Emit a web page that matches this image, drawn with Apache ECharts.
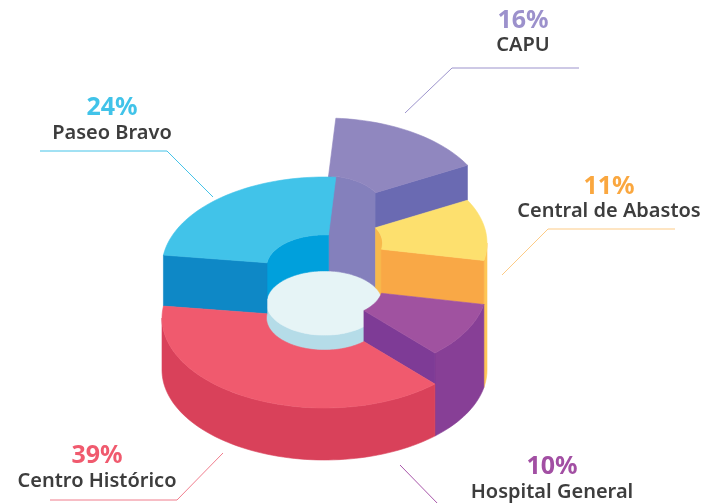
<!DOCTYPE html>
<html>
<head>
<meta charset="utf-8">
<script src="https://cdn.jsdelivr.net/npm/echarts@6/dist/echarts.min.js"></script>
<style>
  html, body { margin: 0; padding: 0; background: #fff; }
  #main { width: 707px; height: 503px; }
</style>
</head>
<body>
<div id="main"></div>
<script>
  // data
  var names = ['CAPU', 'Central de Abastos', 'Hospital General', 'Centro Histórico', 'Paseo Bravo'];
  var values = [16, 11, 10, 39, 24];

  // styles
  var topColors = ['#9087BF', '#FDE06E', '#A052A0', '#F05A6E', '#41C3E9'];
  var sideColors = ['#6A6AB2', '#FEC658', '#873F96', '#D9415A', '#0E88C6'];
  var innerColors = ['#8480BC', '#F7B94C', '#8A4598', '#D9415A', '#00A0DC'];
  var cutColors = ['#6A6AB2', '#F9A846', '#7E3B96', '#C8384F', '#0E88C6'];
  var pctColors = ['#9C91CC', '#FAA73F', '#A24FA3', '#F05A6E', '#41C3E9'];
  var lineColors = ['#9C93CC', '#FDCB86', '#A855A9', '#F07C8C', '#45C3E8'];
  var heights = [162, 127, 83, 52, 103];   // extrusion of each slice (px)

  // label layout: [x, pct y, name y] and leader line points
  var labelPos = [[523, 21, 45], [609, 187, 211], [552, 467, 492], [97, 456, 481], [112, 108, 133]];
  var labelLines = [
    [[405, 113], [452, 68], [579, 68]],
    [[502, 275], [548, 229], [675, 229]],
    [[400, 465], [440, 506], [600, 506]],
    [[223, 453], [177, 500], [50, 500]],
    [[213, 197], [167, 151], [40, 151]]
  ];

  var CX = 324.5, CY = 370, RO = 162.5, RI = 58, KY = 90 / 162.5, HUB_H = 67;
  var START = 86;

  var total = values.reduce(function (a, b) { return a + b; }, 0);
  var a0 = [], a1 = [], acc = 0;
  for (var i = 0; i < values.length; i++) {
    a0.push(START - 360 * acc / total);
    acc += values[i];
    a1.push(START - 360 * acc / total);
  }
  // back to front order
  var order = values.map(function (v, i) { return i; }).sort(function (p, q) {
    return Math.sin((a0[q] + a1[q]) / 360 * Math.PI) - Math.sin((a0[p] + a1[p]) / 360 * Math.PI);
  });
  var rank = [];
  order.forEach(function (idx, r) { rank[idx] = r; });

  function pt(r, deg, h) {
    var a = deg * Math.PI / 180;
    return [CX + r * Math.cos(a), CY - h - r * Math.sin(a) * KY];
  }
  function arc(r, from, to, h) {
    var n = Math.max(2, Math.ceil(Math.abs(to - from) / 2));
    var pts = [];
    for (var k = 0; k <= n; k++) pts.push(pt(r, from + (to - from) * k / n, h));
    return pts;
  }
  // parts of [lo, hi] that fall in [offset + k*360, offset + k*360 + 180]
  function clip(lo, hi, offset) {
    var out = [];
    for (var k = -3; k <= 3; k++) {
      var s = offset + k * 360, e = s + 180;
      var a = Math.max(lo, s), b = Math.min(hi, e);
      if (b - a > 0.01) out.push([a, b]);
    }
    return out;
  }
  function poly(points, color, z2) {
    return {
      type: 'polygon', z2: z2,
      shape: { points: points },
      style: { fill: color, stroke: color, lineWidth: 0.6 }
    };
  }

  function renderItem(params, api) {
    var i = params.dataIndex;
    var n = values.length;
    var h = heights[i];
    var lo = a1[i], hi = a0[i];
    var base = 10 + rank[i] * 10;
    var children = [];

    if (i === 0) {
      // center hub
      children.push(poly(arc(RI, -180, 0, HUB_H).concat(arc(RI, 0, -180, 0)), '#B5DCE8', 1));
      children.push(poly(arc(RI, 0, 360, HUB_H), '#E6F4F6', 2));
    }
    // inner wall (back part)
    if (h > HUB_H) {
      clip(lo, hi, 0).forEach(function (iv) {
        children.push(poly(arc(RI, iv[0], iv[1], h).concat(arc(RI, iv[1], iv[0], HUB_H)), innerColors[i], base + 1));
      });
    }
    // outer wall (front part)
    clip(lo, hi, -180).forEach(function (iv) {
      children.push(poly(arc(RO, iv[0], iv[1], h).concat(arc(RO, iv[1], iv[0], 0)), sideColors[i], base + 2));
    });
    // cut faces
    var hn = heights[(i + 1) % n], hp = heights[(i - 1 + n) % n];
    if (Math.cos(lo * Math.PI / 180) > 0 && h > hn) {
      children.push(poly([pt(RI, lo, hn), pt(RO, lo, hn), pt(RO, lo, h), pt(RI, lo, h)], cutColors[i], base + 3));
    }
    if (Math.cos(hi * Math.PI / 180) < 0 && h > hp) {
      children.push(poly([pt(RI, hi, hp), pt(RO, hi, hp), pt(RO, hi, h), pt(RI, hi, h)], cutColors[i], base + 3));
    }
    // top
    children.push(poly(arc(RO, lo, hi, h).concat(arc(RI, hi, lo, h)), topColors[i], base + 4));

    // label
    var lp = labelPos[i];
    children.push({
      type: 'polyline', z2: 200,
      shape: { points: labelLines[i] },
      style: { stroke: lineColors[i], lineWidth: 1, fill: null }
    });
    children.push({
      type: 'text', z2: 201, x: lp[0], y: lp[1],
      style: {
        text: api.value(0) + '%', fill: pctColors[i],
        font: 'bold 25px "Noto Sans"', align: 'center', verticalAlign: 'middle'
      }
    });
    children.push({
      type: 'text', z2: 201, x: lp[0], y: lp[2],
      style: {
        text: names[i], fill: '#3D3D3D',
        font: '600 20px "Noto Sans"', align: 'center', verticalAlign: 'middle'
      }
    });
    return { type: 'group', children: children };
  }

  var chart = echarts.init(document.getElementById('main'));
  chart.setOption({
    animation: false,
    series: [{
      type: 'custom',
      coordinateSystem: 'none',
      renderItem: renderItem,
      data: values
    }]
  });
</script>
</body>
</html>
